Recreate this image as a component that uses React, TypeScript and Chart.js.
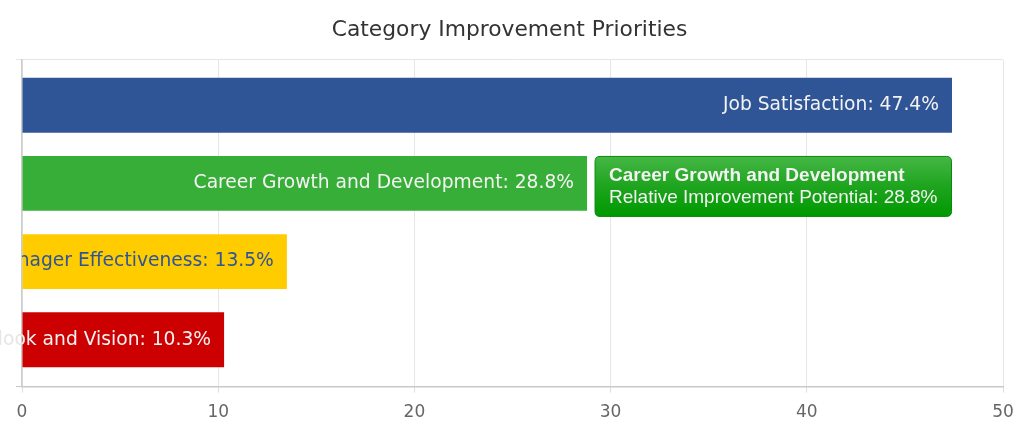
import React, { useEffect, useRef } from 'react';
import { Chart, registerables, Tooltip } from 'chart.js';

Chart.register(...registerables);

const chartTitle = 'Category Improvement Priorities';
const categories = [
  'Job Satisfaction',
  'Career Growth and Development',
  'Manager Effectiveness',
  'Outlook and Vision',
];
const values = [47.4, 28.8, 13.5, 10.3];
const xMin = 0;
const xMax = 50;
const xStep = 10;
const highlightedIndex = 1;
const tooltipMetric = 'Relative Improvement Potential';

const barColors = ['#2f5597', '#37ae37', '#ffcc00', '#cc0000'];
const labelColors = ['#f3f3f3', '#f3f3f3', '#2f5597', '#f3f3f3'];
const ghostColors = ['#e6e6e6', '#e6e6e6', 'transparent', '#e6e6e6'];

const CHART_FONT = "'DejaVu Sans', 'Open Sans', sans-serif";
const TIP_FONT = "'Liberation Sans', Arial, Helvetica, sans-serif";

(Tooltip.positioners as any).barEndLow = function (items: any[]) {
  if (!items.length) return false;
  const el = items[0].element;
  return { x: el.x, y: el.y + 3 };
};

const barLabelPlugin = {
  id: 'barLabels',
  afterDatasetsDraw(chart: any) {
    const { ctx, chartArea } = chart;
    const meta = chart.getDatasetMeta(0);
    meta.data.forEach((bar: any, i: number) => {
      const text = `${categories[i]}: ${values[i]}%`;
      const tx = bar.x - 13;
      const ty = bar.y;
      ctx.save();
      ctx.font = `18.7px ${CHART_FONT}`;
      ctx.textAlign = 'right';
      ctx.textBaseline = 'middle';
      ctx.save();
      ctx.beginPath();
      ctx.rect(chartArea.left, chartArea.top, chartArea.right - chartArea.left, chartArea.bottom - chartArea.top);
      ctx.clip();
      ctx.fillStyle = labelColors[i];
      ctx.fillText(text, tx, ty);
      ctx.restore();
      ctx.save();
      ctx.beginPath();
      ctx.rect(0, chartArea.top, chartArea.left, chartArea.bottom - chartArea.top);
      ctx.clip();
      ctx.fillStyle = ghostColors[i];
      ctx.fillText(text, tx, ty);
      ctx.restore();
      ctx.restore();
    });
  },
};

export default function App() {
  const canvasRef = useRef<HTMLCanvasElement | null>(null);

  useEffect(() => {
    const canvas = canvasRef.current;
    if (!canvas) return;
    const chart = new Chart(canvas, {
      type: 'bar',
      data: {
        datasets: [
          {
            label: tooltipMetric,
            data: values.map((v, i) => ({ x: v, y: i })) as any,
            backgroundColor: barColors,
            borderWidth: 0,
            categoryPercentage: 0.78,
            barPercentage: 0.9,
          },
        ],
      },
      plugins: [barLabelPlugin],
      options: {
        indexAxis: 'y',
        responsive: true,
        maintainAspectRatio: false,
        animation: false,
        events: [],
        layout: { padding: { left: 16, right: 21, top: 0, bottom: 8 } },
        scales: {
          x: {
            type: 'linear',
            min: xMin,
            max: xMax,
            ticks: {
              stepSize: xStep,
              color: '#666666',
              padding: 9.5,
              font: { family: CHART_FONT, size: 17 },
            },
            grid: { color: '#e6e6e6', tickLength: 6, tickColor: '#dddddd' },
            border: { color: '#c8c8c8', width: 1.5 },
          },
          y: {
            type: 'linear',
            min: -0.58,
            max: 3.6,
            reverse: true,
            offset: false,
            afterBuildTicks: (scale: any) => {
              scale.ticks = [{ value: scale.min }, { value: scale.max }];
            },
            ticks: { display: false },
            grid: {
              offset: false,
              tickLength: 6,
              color: (c: any) => (c.index === 0 ? '#e6e6e6' : '#c8c8c8'),
            },
            border: { color: '#cccccc', width: 1.5 },
          },
        },
        plugins: {
          legend: { display: false },
          title: {
            display: true,
            text: chartTitle,
            color: '#333333',
            font: { family: CHART_FONT, size: 21.8, weight: 'normal' as any, lineHeight: 1.2 },
            padding: { top: 17, bottom: 16.8 },
          },
          tooltip: {
            enabled: true,
            position: 'barEndLow' as any,
            displayColors: false,
            xAlign: 'left',
            yAlign: 'center',
            caretSize: 0,
            caretPadding: 8,
            cornerRadius: 5,
            padding: { top: 8.6, bottom: 8.6, left: 14, right: 14 },
            titleFont: { family: TIP_FONT, size: 19, weight: 'bold' as any, lineHeight: 1.1 },
            bodyFont: { family: TIP_FONT, size: 19, lineHeight: 1.1 },
            titleMarginBottom: 1,
            titleColor: '#f2f2f2',
            bodyColor: '#f2f2f2',
            borderColor: '#078a07',
            borderWidth: 1,
            backgroundColor: ((c: any) => {
              const t = c.tooltip;
              const top = t && typeof t.y === 'number' ? t.y : 0;
              const h = t && t.height ? t.height : 60;
              const g = c.chart.ctx.createLinearGradient(0, top, 0, top + h);
              g.addColorStop(0, '#45b745');
              g.addColorStop(0.5, '#1ea41e');
              g.addColorStop(1, '#009900');
              return g;
            }) as any,
            callbacks: {
              title: (items: any[]) => categories[items[0].dataIndex],
              label: (item: any) => `${tooltipMetric}: ${values[item.dataIndex]}%`,
            },
          },
        },
      },
    });

    chart.tooltip?.setActiveElements([{ datasetIndex: 0, index: highlightedIndex }], { x: 0, y: 0 });
    chart.update();

    return () => {
      chart.destroy();
    };
  }, []);

  return (
    <div style={{ position: 'fixed', left: 0, top: 0, width: 1024, height: 440, background: '#ffffff' }}>
      <canvas ref={canvasRef} />
    </div>
  );
}
